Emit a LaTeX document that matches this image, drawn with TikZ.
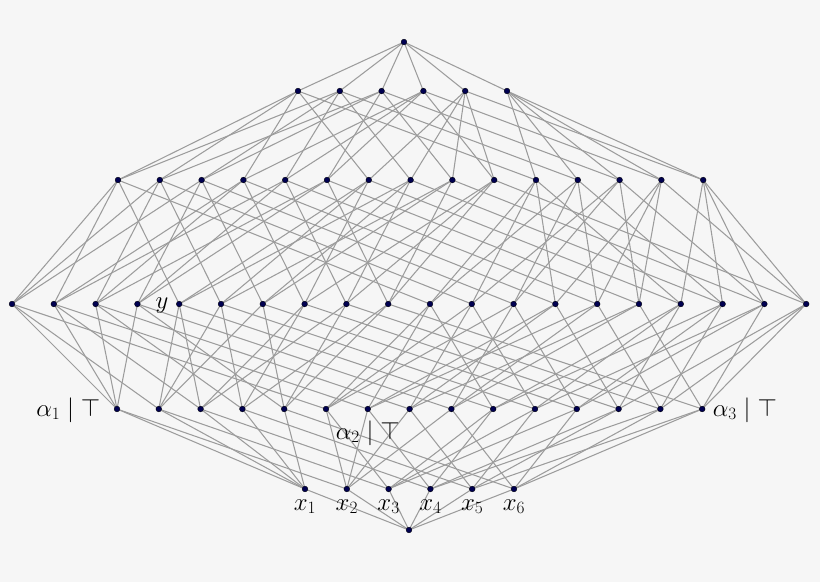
\documentclass[tikz,border=0pt]{standalone}
\usepackage{amsmath}
\definecolor{bg}{HTML}{F6F6F6}
\definecolor{edgegray}{HTML}{9C9C9C}
\definecolor{dotblue}{HTML}{000050}
\begin{document}
\begin{tikzpicture}[x=1pt,y=1pt,
  edge/.style={draw=edgegray,line width=1.05pt},
  dot/.style={circle,fill=dotblue,draw=black,line width=0.3pt,inner sep=0pt,minimum size=5.8pt},
  lab/.style={inner sep=0pt,font=\fontsize{26}{30}\selectfont}]
\fill[bg] (0,0) rectangle (820,-582);
\useasboundingbox (0,0) rectangle (820,-582);
% coordinates
\coordinate (n0) at (409,-530);
\coordinate (n123456) at (404,-42);
\foreach \s [count=\i from 0] in {1,2,3,4,5,6}
  \coordinate (n\s) at ({305+41.8*\i},-489);
\foreach \s [count=\i from 0] in {12,13,14,15,16,23,24,25,26,34,35,36,45,46,56}
  \coordinate (n\s) at ({117+41.8*\i},-409);
\foreach \s [count=\i from 0] in {123,124,125,126,134,135,136,145,146,156,234,235,236,245,246,256,345,346,356,456}
  \coordinate (n\s) at ({12+41.8*\i},-304);
\foreach \s [count=\i from 0] in {1234,1235,1236,1245,1246,1256,1345,1346,1356,1456,2345,2346,2356,2456,3456}
  \coordinate (n\s) at ({118+41.8*\i},-180);
\foreach \s [count=\i from 0] in {12345,12346,12356,12456,13456,23456}
  \coordinate (n\s) at ({298+41.8*\i},-91);
% edges
\foreach \s in {1,2,3,4,5,6} \draw[edge] (n\s) -- (n0);
\foreach \s/\a/\b in {12/1/2,13/1/3,14/1/4,15/1/5,16/1/6,23/2/3,24/2/4,25/2/5,26/2/6,34/3/4,35/3/5,36/3/6,45/4/5,46/4/6,56/5/6}
  {\draw[edge] (n\s) -- (n\a); \draw[edge] (n\s) -- (n\b);}
\foreach \s/\a/\b/\c in {123/23/13/12,124/24/14/12,125/25/15/12,126/26/16/12,134/34/14/13,135/35/15/13,136/36/16/13,145/45/15/14,146/46/16/14,156/56/16/15,234/34/24/23,235/35/25/23,236/36/26/23,245/45/25/24,246/46/26/24,256/56/26/25,345/45/35/34,346/46/36/34,356/56/36/35,456/56/46/45}
  {\draw[edge] (n\s) -- (n\a); \draw[edge] (n\s) -- (n\b); \draw[edge] (n\s) -- (n\c);}
\foreach \s/\a/\b/\c/\d in {1234/234/134/124/123,1235/235/135/125/123,1236/236/136/126/123,1245/245/145/125/124,1246/246/146/126/124,1256/256/156/126/125,1345/345/145/135/134,1346/346/146/136/134,1356/356/156/136/135,1456/456/156/146/145,2345/345/245/235/234,2346/346/246/236/234,2356/356/256/236/235,2456/456/256/246/245,3456/456/356/346/345}
  {\draw[edge] (n\s) -- (n\a); \draw[edge] (n\s) -- (n\b); \draw[edge] (n\s) -- (n\c); \draw[edge] (n\s) -- (n\d);}
\foreach \s/\a/\b/\c/\d/\e in {12345/2345/1345/1245/1235/1234,12346/2346/1346/1246/1236/1234,12356/2356/1356/1256/1236/1235,12456/2456/1456/1256/1246/1245,13456/3456/1456/1356/1346/1345,23456/3456/2456/2356/2346/2345}
  {\draw[edge] (n\s) -- (n\a); \draw[edge] (n\s) -- (n\b); \draw[edge] (n\s) -- (n\c); \draw[edge] (n\s) -- (n\d); \draw[edge] (n\s) -- (n\e);}
\foreach \s in {12345,12346,12356,12456,13456,23456} \draw[edge] (n\s) -- (n123456);
% dots
\foreach \s in {0,1,2,3,4,5,6,12,13,14,15,16,23,24,25,26,34,35,36,45,46,56,123,124,125,126,134,135,136,145,146,156,234,235,236,245,246,256,345,346,356,456,1234,1235,1236,1245,1246,1256,1345,1346,1356,1456,2345,2346,2356,2456,3456,12345,12346,12356,12456,13456,23456,123456}
  \node[dot] (d\s) at (n\s) {};
% labels
\foreach \i in {1,...,6}
  \node[lab,anchor=base] (lx\i) at ([yshift=-21pt]d\i.center) {$x_{\i}$};
\node[lab,anchor=base west] (ly) at ([xshift=18pt,yshift=-4pt]d126.center) {$y$};
\node[lab,anchor=base east] (la1) at ([xshift=-16.5pt,yshift=-7pt]d12.center) {$\alpha_1\mid\top$};
\node[lab,anchor=base] (la2) at ([yshift=-30pt]d24.center) {$\alpha_2\mid\top$};
\node[lab,anchor=base west] (la3) at ([xshift=10.5pt,yshift=-7pt]d56.center) {$\alpha_3\mid\top$};
\end{tikzpicture}
\end{document}
